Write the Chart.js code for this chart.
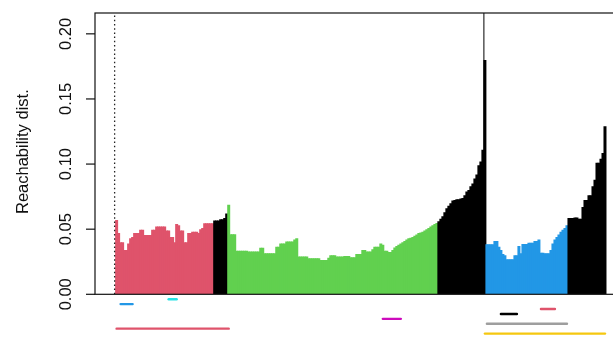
<!DOCTYPE html>
<html>
<head>
<meta charset="utf-8">
<script src="https://cdn.jsdelivr.net/npm/chart.js@4.4.1/dist/chart.umd.min.js"></script>
<style>
  html, body { margin: 0; padding: 0; background: #fff; overflow: hidden; }
  canvas { display: block; }
</style>
</head>
<body>
<canvas id="reachPlot" width="640" height="337"></canvas>
<script>
// Reachability distances in OPTICS order, one array per run of the same cluster label
const firstPoint = [Infinity];
const cluster1 = [
  0.057, 0.047, 0.040, 0.040, 0.034, 0.034, 0.039, 0.043, 0.044, 0.047,
  0.047, 0.047, 0.0495, 0.0495, 0.0456, 0.0456, 0.0456, 0.0456, 0.0495, 0.0495,
  0.052, 0.052, 0.052, 0.052, 0.052, 0.049, 0.049, 0.044, 0.044, 0.040,
  0.054, 0.053, 0.049, 0.049, 0.040, 0.040, 0.047, 0.047, 0.048, 0.048,
  0.048, 0.047, 0.050, 0.051, 0.0546, 0.0546, 0.0546, 0.0546, 0.0546
];
const noiseA = [0.0566, 0.0566, 0.0566, 0.0577, 0.0577, 0.0585, 0.062];
const cluster2 = [
  0.0687,
  0.0462, 0.0462, 0.0462,
  0.0335, 0.0335, 0.0335, 0.0335, 0.0335, 0.0335,
  0.0328, 0.0328, 0.0328, 0.0328, 0.0328, 0.0328,
  0.0358, 0.0358,
  0.0315, 0.0315, 0.0315, 0.0315, 0.0315, 0.0315,
  0.0366, 0.0366,
  0.039, 0.039, 0.039,
  0.0405, 0.0405, 0.0405, 0.0405,
  0.042, 0.043,
  0.029, 0.029, 0.029, 0.029, 0.029,
  0.0277, 0.0277, 0.0277, 0.0277, 0.0277, 0.0277,
  0.0264, 0.0264, 0.0264, 0.0264,
  0.028,
  0.030, 0.030, 0.030,
  0.029, 0.029, 0.029, 0.029,
  0.0295, 0.0295, 0.0295,
  0.0285, 0.0285, 0.0285,
  0.031, 0.031, 0.031,
  0.034, 0.034,
  0.0328, 0.0328, 0.0328,
  0.0345,
  0.0366, 0.0366, 0.0366,
  0.039, 0.038,
  0.0335, 0.0335,
  0.0325, 0.0325,
  0.034,
  0.036, 0.037, 0.038, 0.039, 0.040, 0.041, 0.042, 0.043, 0.0435, 0.044, 0.045,
  0.046, 0.047, 0.0475, 0.048, 0.049, 0.050, 0.051, 0.052, 0.053, 0.054, 0.0548
];
const noiseB = [
  0.056, 0.058, 0.060, 0.063, 0.066, 0.068, 0.070, 0.072, 0.0725, 0.073,
  0.073, 0.0735, 0.074, 0.076, 0.079, 0.080, 0.083, 0.085, 0.089, 0.092,
  0.099, 0.102, 0.111, 0.180
];
const cluster3 = [
  0.0385, 0.0385, 0.0385, 0.0385,
  0.041, 0.041,
  0.0366, 0.034,
  0.031, 0.030,
  0.027, 0.027, 0.027, 0.027,
  0.030, 0.030,
  0.037,
  0.0315,
  0.0387, 0.0387, 0.0387, 0.0395, 0.0395, 0.0395,
  0.041, 0.041, 0.042,
  0.032, 0.032,
  0.0315, 0.0315, 0.0315,
  0.034, 0.039, 0.042, 0.044, 0.046, 0.048, 0.0495, 0.051, 0.053
];
const noiseC = [
  0.0585, 0.0585, 0.0585, 0.059, 0.059, 0.058, 0.058, 0.067, 0.0725, 0.0725,
  0.076, 0.076, 0.083, 0.088, 0.101, 0.101, 0.104, 0.1085, 0.129
];

const yTicks = [0, 0.05, 0.10, 0.15, 0.20];
const yTickLabels = ["0.00", "0.05", "0.10", "0.15", "0.20"];

// Xi clusters drawn as segments under the plot (order positions)
const xiStart = [27, 3, 213, 193, 134, 186, 1, 185];
const xiEnd = [31, 9, 220, 201, 143, 226, 57, 245];
const xiCluster = [4, 3, 1, 0, 5, 7, 1, 6];

// order position of the tall line that leaves the plot
const cutPos = 184.5;

const palette = ["#000000", "#DF536B", "#61D04F", "#2297E6", "#28E2E5", "#CD0BBC", "#F5C710", "#9E9E9E"];

const parts = [
  [firstPoint, 1], [cluster1, 1], [noiseA, 0], [cluster2, 2],
  [noiseB, 0], [cluster3, 3], [noiseC, 0]
];
const reach = [];
const label = [];
parts.forEach(([vals, id]) => vals.forEach(v => { reach.push(v); label.push(id); }));

const n = reach.length;
const yMax = Math.max(...reach.filter(v => isFinite(v))) * 1.2;
const xPad = 0.04 * (n - 1);

const bars = [];
const barColors = [];
const infPos = [];
reach.forEach((v, i) => {
  if (isFinite(v)) {
    bars.push({ x: i, y: v });
    barColors.push(palette[label[i]]);
  } else {
    infPos.push(i);
  }
});

// bars overlap a little so the fill has no hairline gaps
const datasets = [{
  type: "bar",
  data: bars,
  backgroundColor: barColors,
  borderWidth: 0,
  barPercentage: 1.5,
  categoryPercentage: 1,
  order: 2
}];

infPos.forEach(p => {
  datasets.push({
    type: "line",
    data: [{ x: p, y: 0 }, { x: p, y: yMax }],
    borderColor: "#222",
    borderWidth: 1.3,
    borderDash: [1.5, 2.7],
    pointRadius: 0,
    order: 1
  });
});

datasets.push({
  type: "line",
  data: [{ x: cutPos, y: 0 }, { x: cutPos, y: yMax }],
  borderColor: "#000",
  borderWidth: 1,
  pointRadius: 0,
  order: 1
});

// smaller clusters sit closer to the axis
const levelStep = 0.00377;
const bySize = xiStart.map((s, k) => k)
  .sort((a, b) => (xiEnd[a] - xiStart[a]) - (xiEnd[b] - xiStart[b]));
bySize.forEach((k, rank) => {
  const y = -levelStep * (rank + 1);
  datasets.push({
    type: "line",
    data: [{ x: xiStart[k], y: y }, { x: xiEnd[k], y: y }],
    borderColor: palette[xiCluster[k]],
    borderWidth: 2.4,
    borderCapStyle: "round",
    pointRadius: 0,
    clip: false,
    order: 0
  });
});

const fontFamily = "'Liberation Sans', Arial, sans-serif";

// box, y axis ticks and labels in base-graphics style
const framePlugin = {
  id: "frame",
  afterDraw(chart) {
    const ctx = chart.ctx;
    const area = chart.chartArea;
    const ys = chart.scales.y;
    ctx.save();
    ctx.strokeStyle = "#111";
    ctx.lineWidth = 1.2;
    ctx.strokeRect(area.left, area.top, area.right - area.left, area.bottom - area.top);

    ctx.fillStyle = "#111";
    ctx.font = "16.5px " + fontFamily;
    ctx.textAlign = "center";
    ctx.textBaseline = "alphabetic";
    yTicks.forEach((v, k) => {
      const py = ys.getPixelForValue(v);
      ctx.beginPath();
      ctx.moveTo(area.left - 9, py);
      ctx.lineTo(area.left, py);
      ctx.stroke();
      ctx.save();
      ctx.translate(area.left - 24.5, py);
      ctx.rotate(-Math.PI / 2);
      ctx.fillText(yTickLabels[k], 0, 0);
      ctx.restore();
    });

    ctx.save();
    ctx.translate(28, (area.top + area.bottom) / 2 - 2);
    ctx.rotate(-Math.PI / 2);
    ctx.fillText("Reachability dist.", 0, 0);
    ctx.restore();
    ctx.restore();
  }
};

new Chart(document.getElementById("reachPlot"), {
  type: "bar",
  data: { datasets: datasets },
  options: {
    responsive: false,
    animation: false,
    devicePixelRatio: 1,
    layout: { padding: { left: 95, right: 15.4, top: 13, bottom: 42.7 } },
    scales: {
      x: { type: "linear", offset: false, min: -xPad, max: n - 1 + xPad, display: false },
      y: { type: "linear", min: 0, max: yMax, display: false }
    },
    plugins: {
      legend: { display: false },
      tooltip: { enabled: false }
    }
  },
  plugins: [framePlugin]
});
</script>
</body>
</html>
